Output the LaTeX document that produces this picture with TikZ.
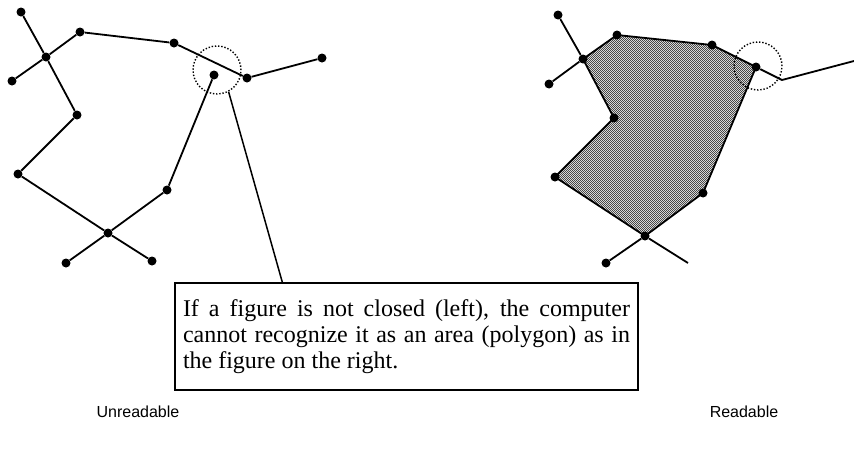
\documentclass[tikz,border=0pt]{standalone}
\usepackage{fontspec}
\setmainfont{Liberation Serif}
\setsansfont{Liberation Sans}
\usetikzlibrary{positioning,backgrounds,patterns.meta}

\tikzdeclarepattern{name=finecheck,type=colored,bottom left={(0pt,0pt)},top right={(2.4pt,2.4pt)},tile size={(2.4pt,2.4pt)},
  code={\fill[gray!15] (0pt,0pt) rectangle (2.4pt,2.4pt); \fill[black!72] (0pt,0pt) rectangle (1.2pt,1.2pt); \fill[black!72] (1.2pt,1.2pt) rectangle (2.4pt,2.4pt);}}

\begin{document}
\begin{tikzpicture}[x=1pt,y=-1pt,dot/.style={circle,fill,inner sep=0pt,minimum size=9pt},seg/.style={line width=1.8pt,line join=round},
  ring/.style={circle,draw,dash pattern=on 1.4pt off 1.8pt,line width=1.4pt,minimum size=48pt,inner sep=0pt},
  note/.style={draw,line width=1.3pt,text width=447pt,align=justify,inner xsep=8pt,minimum height=107pt,font=\fontsize{24}{26}\selectfont},
  caption/.style={font=\sffamily\fontsize{16}{19}\selectfont}]
\useasboundingbox (0,0) rectangle (854,450);
% left: open figure
\node[dot](lTop) at (21,12){}; \node[dot](lHub) at (46,57){}; \node[dot](lWest) at (12,81){};
\node[dot](lNw) at (80,32){}; \node[dot](lNe) at (174,43){}; \node[dot](lJoin) at (247,78){}; \node[dot](lEast) at (322,58){};
\node[dot](lOpen) at (214,75){}; \node[dot](lMid) at (77,115){}; \node[dot](lSw) at (18,174){}; \node[dot](lSe) at (167,190){};
\node[dot](lBase) at (108,233){}; \node[dot](lFootW) at (66,263){}; \node[dot](lFootE) at (152,261){};
\draw[seg](lTop)--(lHub); \draw[seg](lHub)--(lWest); \draw[seg](lHub)--(lNw); \draw[seg](lNw)--(lNe); \draw[seg](lNe)--(lJoin);
\draw[seg](lJoin)--(lEast); \draw[seg](lHub)--(lMid); \draw[seg](lMid)--(lSw); \draw[seg](lSw)--(lBase); \draw[seg](lBase)--(lSe);
\draw[seg](lSe)--(lOpen); \draw[seg](lBase)--(lFootW); \draw[seg](lBase)--(lFootE);
\node[ring](lRing) at (217,70){};
% right: closed figure
\node[dot](rTop) at (558,15){}; \node[dot](rHub) at (583,59){}; \node[dot](rWest) at (549,84){};
\node[dot](rNw) at (617,35){}; \node[dot](rNe) at (712,45){}; \node[dot](rClose) at (756,67){};
\coordinate(rBend) at (782,80); \coordinate(rEast) at (854,61);
\node[dot](rMid) at (614,118){}; \node[dot](rSw) at (555,177){}; \node[dot](rSe) at (703,193){};
\node[dot](rBase) at (645,236){}; \node[dot](rFootW) at (606,263){}; \coordinate(rFootE) at (688,263);
\begin{scope}[on background layer]
\fill[pattern=finecheck](rHub.center)--(rNw.center)--(rNe.center)--(rClose.center)--(rSe.center)--(rBase.center)--(rSw.center)--(rMid.center)--cycle;
\end{scope}
\draw[seg](rHub.center)--(rNw.center)--(rNe.center)--(rClose.center)--(rSe.center)--(rBase.center)--(rSw.center)--(rMid.center)--cycle;
\draw[seg](rTop)--(rHub); \draw[seg](rHub)--(rWest); \draw[seg](rClose)--(rBend)--(rEast);
\draw[seg](rBase)--(rFootW); \draw[seg](rBase)--(rFootE);
\node[ring](rRing) at (758,66){};
% note and captions
\node[note](note) at (406.5,336.5){If a figure is not closed (left), the computer\linebreak cannot recognize it as an area (polygon) as in\linebreak the figure on the right.};
\coordinate(tip) at ([xshift=108pt]note.north west);
\draw[line width=1.5pt](lRing.-62)--(tip);
\node[caption](unread) at (138,412){Unreadable};
\node[caption](read) at (744,412){Readable};
\end{tikzpicture}
\end{document}
